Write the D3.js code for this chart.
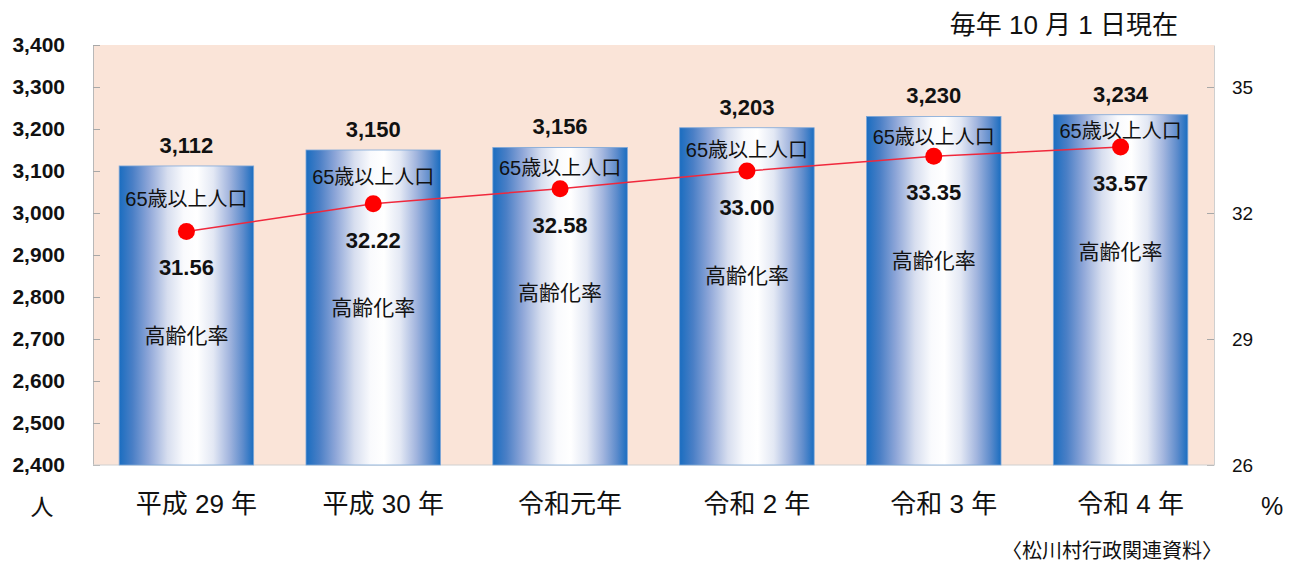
<!DOCTYPE html>
<html lang="ja">
<head>
<meta charset="utf-8">
<script src="https://cdn.jsdelivr.net/npm/d3@7"></script>
<style>
  html, body { margin: 0; padding: 0; background: #ffffff; }
  svg { display: block; }
  .num { font-family: "Liberation Sans", Arial, sans-serif; }
  .jp  { font-family: "Liberation Sans", "Noto Sans CJK JP", sans-serif; }
</style>
</head>
<body>
<svg id="chart" width="1302" height="569"></svg>
<script>
// 松川村 人口・高齢化率（毎年10月1日現在）
const categories = ["平成 29 年", "平成 30 年", "令和元年", "令和 2 年", "令和 3 年", "令和 4 年"];
const elderlyPopulation = [3112, 3150, 3156, 3203, 3230, 3234];   // 65歳以上人口（人）
const agingRate = [31.56, 32.22, 32.58, 33.00, 33.35, 33.57];     // 高齢化率（%）
const leftTicks = [2400, 2500, 2600, 2700, 2800, 2900, 3000, 3100, 3200, 3300, 3400];
const rightTicks = [26, 29, 32, 35];

const svg = d3.select("#chart");
const plot = { left: 93, right: 1214, top: 45, bottom: 465 };

const x = d3.scaleBand()
  .domain(categories)
  .range([plot.left, plot.right])
  .paddingInner(0.28)
  .paddingOuter(0.14);

const yLeft = d3.scaleLinear().domain([2400, 3400]).range([plot.bottom, plot.top]);
const yRight = d3.scaleLinear().domain([26, 36]).range([plot.bottom, plot.top]);

// bar fill: blue edges fading to white in the middle
const defs = svg.append("defs");
const grad = defs.append("linearGradient")
  .attr("id", "barFill")
  .attr("x1", "0").attr("x2", "1").attr("y1", "0").attr("y2", "0");
[
  [0.00, "#1a6dc0"],
  [0.10, "#4a7fc6"],
  [0.22, "#8ea6d8"],
  [0.36, "#d7deef"],
  [0.48, "#f9fafd"],
  [0.58, "#ffffff"],
  [0.70, "#e3e8f4"],
  [0.82, "#a2b5de"],
  [0.92, "#5e8ccc"],
  [1.00, "#1a6dc0"]
].forEach(([o, c]) => grad.append("stop").attr("offset", o).attr("stop-color", c));

// plot background
svg.append("rect")
  .attr("x", plot.left).attr("y", plot.top)
  .attr("width", plot.right - plot.left).attr("height", plot.bottom - plot.top)
  .attr("fill", "#fae4d8");

// left axis (people)
const axL = svg.append("g")
  .attr("transform", `translate(${plot.left},0)`)
  .call(d3.axisLeft(yLeft).tickValues(leftTicks).tickSizeInner(-7).tickSizeOuter(0)
    .tickPadding(28).tickFormat(d3.format(",")));
axL.select(".domain").attr("stroke", "#b8b8b8");
axL.selectAll(".tick line").attr("stroke", "#a8a8a8");
axL.selectAll(".tick text")
  .attr("class", "num")
  .attr("font-size", 21).attr("font-weight", "bold").attr("fill", "#111");

// right axis (percent)
const axR = svg.append("g")
  .attr("transform", `translate(${plot.right},0)`)
  .call(d3.axisRight(yRight).tickValues(rightTicks).tickSizeInner(-7).tickSizeOuter(0)
    .tickPadding(18));
axR.select(".domain").attr("stroke", "#cfcfcf");
axR.selectAll(".tick line").attr("stroke", "#a8a8a8");
axR.selectAll(".tick text")
  .attr("class", "num")
  .attr("font-size", 19).attr("fill", "#111");

// bottom edge
svg.append("line")
  .attr("x1", plot.left).attr("x2", plot.right)
  .attr("y1", plot.bottom).attr("y2", plot.bottom)
  .attr("stroke", "#d0d0d0");

// bars
const barData = categories.map((c, i) => ({ c, pop: elderlyPopulation[i], rate: agingRate[i] }));
svg.append("g").selectAll("rect")
  .data(barData).join("rect")
  .attr("x", d => x(d.c))
  .attr("y", d => yLeft(d.pop))
  .attr("width", x.bandwidth())
  .attr("height", d => yLeft(2400) - yLeft(d.pop))
  .attr("fill", "url(#barFill)")
  .attr("stroke", "#7ea7d8")
  .attr("stroke-width", 0.8);

const cx = d => x(d.c) + x.bandwidth() / 2;

// population value labels above the bars
svg.append("g").selectAll("text")
  .data(barData).join("text")
  .attr("class", "num")
  .attr("x", cx)
  .attr("y", d => yLeft(d.pop) - 21)
  .attr("dy", "0.36em")
  .attr("text-anchor", "middle")
  .attr("font-size", 22).attr("font-weight", "bold").attr("fill", "#111")
  .text(d => d3.format(",")(d.pop));

// "65歳以上人口" labels, between bar top and rate marker
svg.append("g").selectAll("text")
  .data(barData).join("text")
  .attr("class", "jp")
  .attr("x", cx)
  .attr("y", d => (yLeft(d.pop) + yRight(d.rate)) / 2)
  .attr("dy", "0.36em")
  .attr("text-anchor", "middle")
  .attr("font-size", 20).attr("fill", "#111")
  .text("65歳以上人口");

// aging rate line
svg.append("path")
  .datum(barData)
  .attr("fill", "none")
  .attr("stroke", "#f0283c")
  .attr("stroke-width", 1.5)
  .attr("d", d3.line().x(cx).y(d => yRight(d.rate)));

svg.append("g").selectAll("circle")
  .data(barData).join("circle")
  .attr("cx", cx)
  .attr("cy", d => yRight(d.rate))
  .attr("r", 8.5)
  .attr("fill", "#ff0000");

// rate value labels
svg.append("g").selectAll("text")
  .data(barData).join("text")
  .attr("class", "num")
  .attr("x", cx)
  .attr("y", d => yRight(d.rate) + 36)
  .attr("dy", "0.36em")
  .attr("text-anchor", "middle")
  .attr("font-size", 22).attr("font-weight", "bold").attr("fill", "#111")
  .text(d => d3.format(".2f")(d.rate));

// "高齢化率" labels
svg.append("g").selectAll("text")
  .data(barData).join("text")
  .attr("class", "jp")
  .attr("x", cx)
  .attr("y", d => yRight(d.rate) + 104)
  .attr("dy", "0.36em")
  .attr("text-anchor", "middle")
  .attr("font-size", 21).attr("fill", "#111")
  .text("高齢化率");

// category axis
const axB = svg.append("g")
  .attr("transform", `translate(10,${plot.bottom})`)
  .call(d3.axisBottom(x).tickSize(0).tickPadding(30));
axB.select(".domain").remove();
axB.selectAll(".tick text")
  .attr("class", "jp")
  .attr("font-size", 26).attr("fill", "#111");

// unit labels
svg.append("text").attr("class", "jp")
  .attr("x", 42).attr("y", 507).attr("dy", "0.36em")
  .attr("text-anchor", "middle").attr("font-size", 23).attr("fill", "#111")
  .text("人");
svg.append("text").attr("class", "num")
  .attr("x", 1272).attr("y", 506).attr("dy", "0.36em")
  .attr("text-anchor", "middle").attr("font-size", 25).attr("fill", "#111")
  .text("%");

// date note and source
svg.append("text").attr("class", "jp")
  .attr("x", 1178).attr("y", 25).attr("dy", "0.36em")
  .attr("text-anchor", "end").attr("font-size", 26).attr("fill", "#111")
  .text("毎年 10 月 1 日現在");
svg.append("text").attr("class", "jp")
  .attr("x", 1222).attr("y", 551).attr("dy", "0.36em")
  .attr("text-anchor", "end").attr("font-size", 20).attr("fill", "#111")
  .text("〈松川村行政関連資料〉");
</script>
</body>
</html>
